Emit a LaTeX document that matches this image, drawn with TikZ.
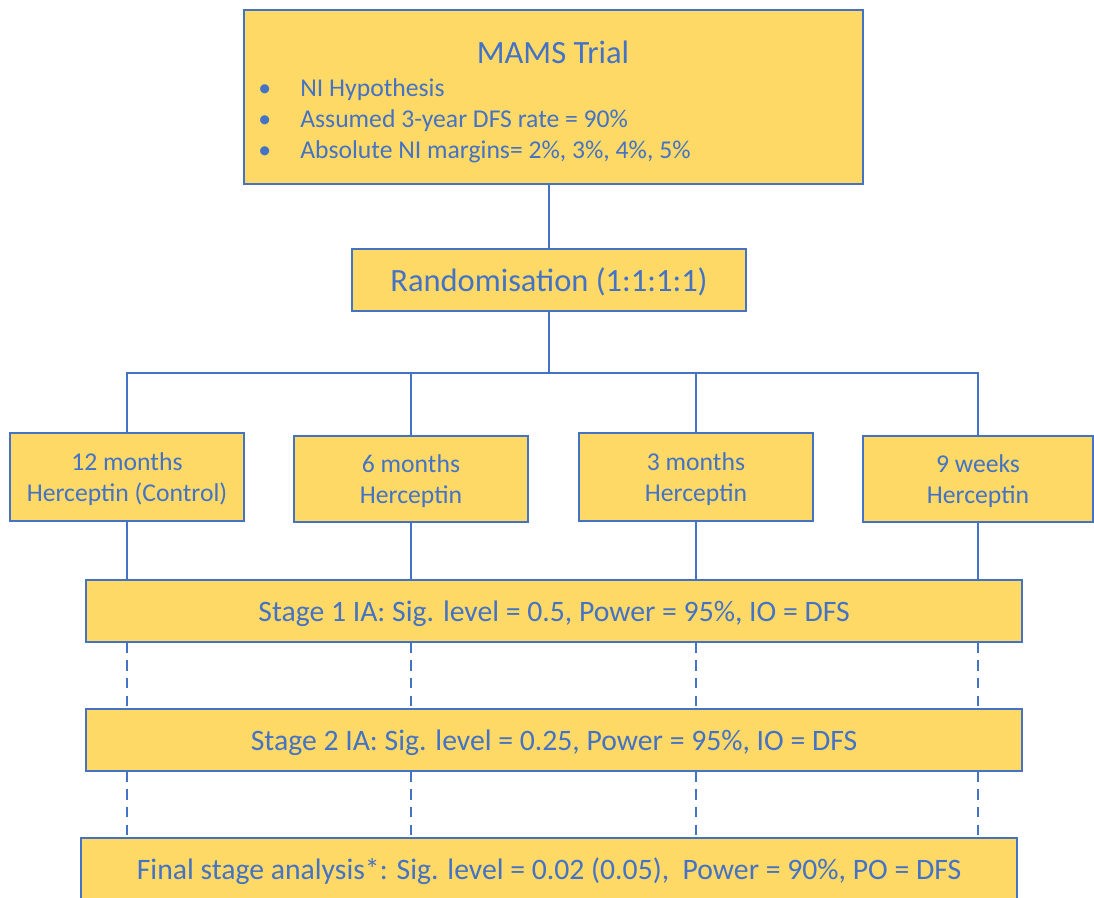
\documentclass[tikz,border=0pt]{standalone}
\usepackage{fontspec}
\setmainfont{Carlito}
\usetikzlibrary{calc}
\definecolor{boxfill}{HTML}{FFD966}
\definecolor{boxline}{HTML}{4472C4}
\tikzset{
  boxsize/.style 2 args={minimum width=#1*0.02cm,minimum height=#2*0.02cm},
  box/.style={draw=boxline,fill=boxfill,line width=0.9pt,text=boxline,align=center,inner sep=0pt,text depth=0pt,font=\fontsize{14.6}{18.1}\selectfont},
  stagebox/.style={box,boxsize={936}{62},font=\fontsize{16.9}{20}\selectfont},
  txt/.style={text=boxline,inner sep=0pt,font=\fontsize{14.6}{17.6}\selectfont},
  link/.style={draw=boxline,line width=1.5pt},
  dashlink/.style={link,dash pattern=on 6pt off 4pt},
}
\begin{document}
\begin{tikzpicture}[x=0.02cm,y=-0.02cm]
\clip (0,0) rectangle (1094,897);
% top box
\node[box,boxsize={619}{174}] (mams) at (553.5,97) {};
\node[txt,font=\fontsize{18.5}{22}\selectfont] (title) at (553,52) {MAMS Trial};
\foreach \t [count=\i] in {NI Hypothesis, Assumed 3-year DFS rate = 90\%, {Absolute NI margins= 2\%, 3\%, 4\%, 5\%}} {
  \node[txt,anchor=base west] (dot\i) at (258,65+31*\i) {•};
  \node[txt,anchor=base west] (item\i) at (300,65+31*\i) {\t};
}
\node[box,boxsize={394}{62},font=\fontsize{18.5}{22}\selectfont] (rand) at (549,280) {Randomisation (1:1:1:1)};
% arms
\node[box,boxsize={234}{88}] (arm1) at (127,477) {12 months\\Herceptin (Control)};
\node[box,boxsize={234}{86}] (arm2) at (411,479) {6 months\\Herceptin};
\node[box,boxsize={234}{88}] (arm3) at (696,477) {3 months\\Herceptin};
\node[box,boxsize={230}{86}] (arm4) at (978,479) {9 weeks\\Herceptin};
% stages
\node[stagebox] (st1) at (554,611) {Stage 1 IA: Sig. level = 0.5, Power = 95\%, IO = DFS};
\node[stagebox] (st2) at (554,740) {Stage 2 IA: Sig. level = 0.25, Power = 95\%, IO = DFS};
\node[stagebox] (fin) at (549,869) {Final stage analysis*: Sig. level = 0.02 (0.05),~ Power = 90\%, PO = DFS};
% connectors
\coordinate (split) at (549,373);
\draw[link] (rand.north |- mams.south) -- (rand.north);
\draw[link] (rand.south) -- (split);
\draw[link] (arm1.north) |- (split) -| (arm4.north);
\foreach \a in {2,3} \draw[link] (arm\a.north) -- (arm\a.north |- split);
\foreach \a in {1,...,4} {
  \draw[link] (arm\a.south) -- (arm\a.south |- st1.north);
  \draw[dashlink] (arm\a.south |- st1.south) -- (arm\a.south |- st2.north);
  \draw[dashlink] (arm\a.south |- st2.south) -- (arm\a.south |- fin.north);
}
\end{tikzpicture}
\end{document}
